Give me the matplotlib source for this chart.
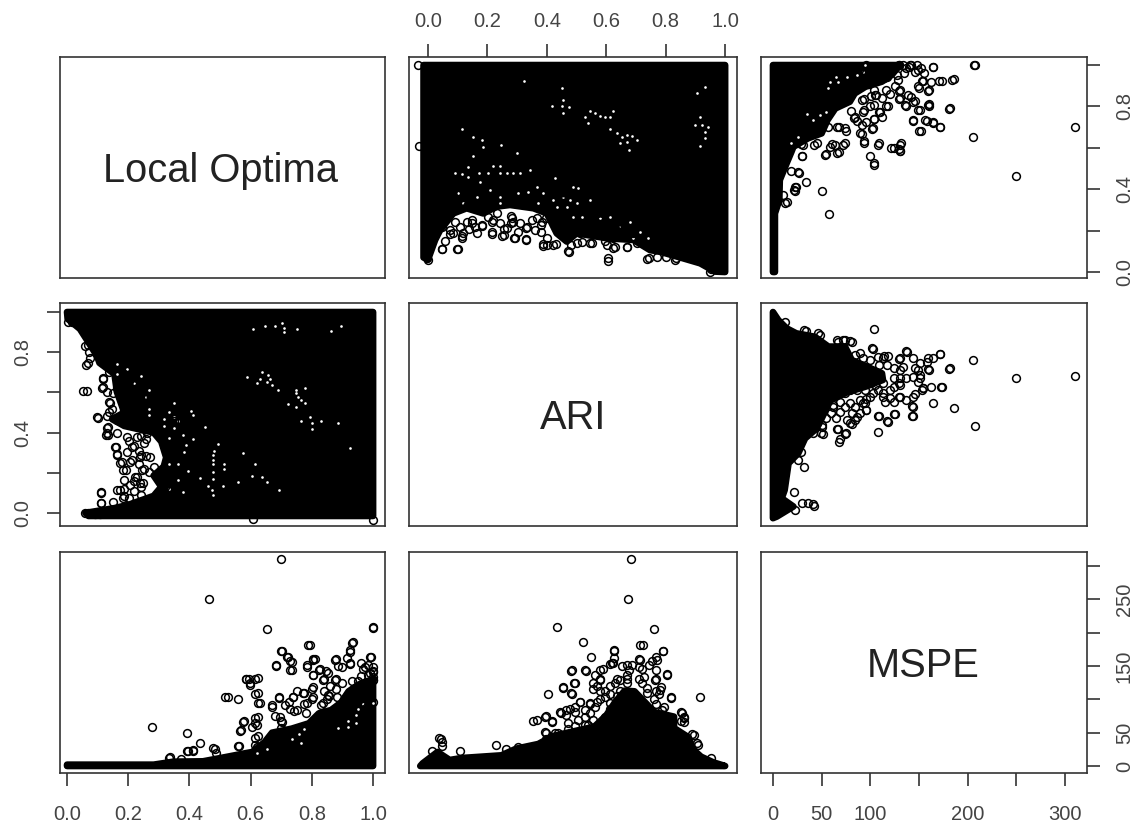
import matplotlib
matplotlib.use('Agg')
import matplotlib.pyplot as plt

plt.rcParams['font.family'] = ['Liberation Sans', 'DejaVu Sans']

# Outlying points, Local Optima against MSPE
lm_mspe = [208, 310, 250, 206, 182, 186, 174, 164, 172, 164, 158, 150, 144, 160, 160, 151, 137, 144, 142, 130.5,
           130.5, 130.5, 130.5, 118.5, 116, 160, 150, 162, 153, 152, 146, 142, 130.5, 124, 108, 104, 104, 100, 94, 102, 104,
           75, 68, 72, 68, 64, 58.5, 54, 42, 30, 34, 22, 50, 58, 12, 27, 19, 31, 57, 89, 96,
           83, 110, 127, 117, 108, 100, 93, 23, 10.6, 96, 96, 134, 129, 148, 137, 125, 120, 135, 140, 112,
           101, 92, 128, 122, 155, 86, 80, 99, 105, 112,
           94, 91.5, 103, 91.5, 104, 84, 109, 116, 104, 106, 104, 114, 106, 94, 94, 74, 66, 66, 74, 61,
           53, 45, 30, 29, 26, 23, 14, 24, 104, 141, 164, 149, 159, 149, 154, 184, 171, 149, 159, 136,
           129, 129, 139, 146, 144, 152, 172, 164, 156, 181, 130, 132, 121, 109, 207, 129]
lm_lo = [1.0, .70, .465, .652, .794, .934, .924, .992, .70, .718, .729, .683, .729, .81, .804, .783, .804, .823, .847, .879,
         .839, .614, .585, .804, .879, .879, .887, .916, .924, .984, .968, 1.0, .585, .599, .615, .515, .525, .56, .625, .691, .738,
         .681, .70, .615, .578, .615, .605, .568, .615, .56, .435, .396, .391, .279, .332, .477, .488, .614, .70, .67, .726,
         .742, .775, .952, .944, .928, .80, .775, .41, .372, .96, 1.0, 1.0, 1.0, 1.0, .984, .90, .86, .96, .99, .75,
         .85, .83, .93, .98, .96, .73, .78, .91, .855, .839,
         .631, .669, .694, .712, .74, .751, .772, .80, .805, .854, .881, .936, .963, .838, .783, .696, .702, .576, .625, .62,
         .565, .625, .561, .62, .484, .391, .337, .413, .936, 1.0, .99, .974, .876, .898, .925, .93, .923, .783, .805, .805,
         .838, .876, .854, .826, .734, .682, .702, .723, .734, .789, .593, .625, .598, .625, 1.0, 1.0]
# Outline of the solid black mass, Local Optima against MSPE
lm_hull_mspe = [0, 2, 2, 6.5, 7, 14, 19, 21, 36, 50, 56, 64, 79, 84, 95, 112, 122, 130.5, 0]
lm_hull_lo = [0, 0, .283, .348, .444, .525, .581, .605, .646, .67, .734, .79, .823, .863, .895, .92, .952, 1.0, 1.0]
lm_gap_mspe = [58.6, 65, 67, 57, 35, 41, 48, 55, 19, 26, 76, 86, 93, 94.5]
lm_gap_lo = [.919, .944, .919, .887, .763, .734, .758, .775, .622, .654, .944, .952, .968, 1.0]

# Outlying points, ARI against MSPE
am_mspe = [104, 310, 250, 206, 208, 186, 182, 174, 162, 164, 172, 164, 158, 160, 154, 153, 144, 144, 138, 130.5,
           130.5, 130.5, 130.5, 118.5, 124, 108, 108, 124, 118, 108, 144, 146, 151, 149.5, 144, 130.5, 124, 115, 102, 89,
           81, 72, 67, 46.5, 32, 12, 96, 84, 79, 75, 67, 68, 49, 32, 22, 42.5, 36, 29.5, 22.5, 26,
           103, 113, 93, 69, 62, 101, 113, 117, 109, 125, 143, 143, 173, 181, 172, 137, 129, 151, 69, 66,
           74, 154, 146, 159, 159, 48, 34, 74, 103, 114, 129, 129, 96, 96, 81, 86, 50, 51, 29, 79,
           66, 109, 41,
           53, 59, 64, 69, 74, 62, 53, 48, 55, 60, 69, 74, 79, 84, 89, 95, 100, 95, 108, 113,
           120, 65, 50, 76, 89, 81, 79, 86, 105, 93, 100, 84, 113, 117, 124, 124, 120, 134, 137, 144,
           149, 151, 137, 45, 41]
am_ari = [.915, .683, .673, .761, .433, .521, .723, .627, .627, .549, .791, .769, .753, .711, .62, .612, .483, .529, .803, .769,
          .711, .67, .637, .783, .72, .778, .483, .493, .453, .405, .769, .72, .687, .653, .579, .579, .554, .554, .819, .794,
          .852, .86, .852, .894, .91, .952, .512, .463, .446, .396, .416, .355, .396, .23, .106, .036, .048, .048, .015, .264,
          .595, .595, .546, .595, .537, .645, .645, .456, .481, .494, .481, .532, .626, .714, .79, .804, .764, .671, .366, .416,
          .394, .624, .59, .714, .77, .888, .905, .86, .817, .78, .646, .579, .512, .568, .444, .478, .428, .394, .304, .854,
          .86, .736, .043,
          .612, .579, .612, .554, .595, .529, .546, .496, .471, .496, .504, .529, .546, .529, .562, .546, .579, .612, .612, .579,
          .57, .471, .438, .463, .496, .496, .612, .612, .637, .769, .761, .786, .769, .736, .67, .629, .612, .728, .67, .678,
          .711, .745, .562, .446, .396]
# Outline of the solid black mass, ARI against MSPE
am_hull_mspe = [0, 5.5, 14, 24, 43, 57, 74, 81, 93, 112, 113, 96, 76, 59, 50, 45, 33, 26, 16, 12, 9, 21, 4, 0]
am_hull_ari = [1.0, .96, .919, .894, .877, .828, .828, .761, .736, .695, .662, .63, .60, .56, .47, .421, .371, .297, .247, .114, .073, .032, -.018, -.026]

# Outlying points, Local Optima against ARI
la_lo = [.111, .111, .053, .061, .098, .127, .13, .184, .174, .163, .159, .222, .238, .13, .147, .138, .13, .167, .114, .119,
         .138, .074, .071, .058, .058, .002, .219, .187, .163, .251, .259, .259, .163, .235, .187, .251, .203, .38, 1.0,
         .066, .102, .135, .135, .07, .07, .015, .119, .119, .151, .141, .173, .2, .222, .157, .162, .179, .193, .206, .228,
         .244, .249, .173, .11, .111, .07, .092, .108, .151, .184, .206, .211, .228, .26, .239, .271, .32, .249, .266, .162,
         .195, .239, .609,
         .203, .243, .219, .243, .219, .187, .187, .267, .283, .235, .211, .243, .235, .195, .219, .203, .243, .251, .283, .348,
         .251, .219, .227, .203, .219, .203, .219, .203, .187, .163, .187, .138, .13]
la_ari = [.048, .102, .605, .738, .476, .388, .422, .214, .25, .293, .33, .181, .147, .481, .517, .551, .602, .613, .624, .669,
          .703, .77, .8, .832, .001, .95, .046, .085, .113, .22, .282, .366, .4, .433, .512, .579, .624, .108, -.033,
          .607, .471, .43, .388, .836, .745, .952, .67, .629, .595, .546, .604, .637, .653, .33, .289, .255, .214, .255, .181,
          .214, .148, .114, .098, .048, -.002, -.005, -.005, .056, .073, .139, .33, .38, .396, .28, .28, .131, .579, .612, .463,
          .38, .446, -.032,
          .074, .091, .108, .13, .158, .119, .164, .203, .231, .242, .265, .287, .31, .304, .332, .36, .383, .349, .411, .456,
          .444, .478, .501, .534, .568, .59, .635, .658, .691, .624, .579, .501, .4]
# Outline of the solid black mass, Local Optima against ARI
la_hull_lo = [1.0, .07, .06, .155, .2, .283, .308, .283, .316, .324, .308, .283, .187, .147, .187, .163, .155, .106, .098, .066, .042, .002, 0, 1.0]
la_hull_ari = [-.015, -.015, 0, .024, .04, .085, .13, .186, .231, .276, .355, .4, .433, .467, .5, .602, .691, .747, .781, .859, .916, .966, 1.0, 1.0]
# Small white gaps left inside the mass
la_gap_ari = [.45, .456, .416, .45, .476, .456, .545, .562, .579, .596, .624, .529, .54, .613, .613, .637, .652, .669, .686, .646,
              .669, .703, .678, .905, .933, .916, .899, .921, .944, .933, .933, .916, .324, .116, .153, .181, .186, .246, .299, .153,
              .091, .113, .136, .136, .17, .175, .203, .22, .242, .242, .265, .287, .31, .343, .428, .102, .164, .209, .242, .304,
              .338, .366, .388, .422, .456, .489, .506, .478, .545, .501, .119, .242, .371, .433, .467, .489, .517, .579, .613, .646,
              .68, .714, .742, .691]
la_gap_lo = [.887, .831, .802, .802, .795, .766, .779, .766, .754, .747, .779, .747, .721, .747, .689, .67, .654, .662, .657, .622,
             .63, .638, .589, .863, .895, .75, .71, .71, .702, .678, .646, .609, .924, .691, .654, .638, .605, .614, .576, .56,
             .477, .473, .509, .461, .477, .436, .477, .514, .514, .477, .477, .477, .48, .493, .452, .38, .364, .396, .364, .383,
             .388, .412, .38, .348, .364, .412, .404, .348, .348, .332, .332, .332, .332, .316, .316, .267, .267, .259, .267, .219,
             .243, .195, .163, .163]

# Axis limits and ticks
lo_xlim = (-.023, 1.039)
ari_xlim = (-.064, 1.04)
mspe_xlim = (-12.3, 322.7)
lo_ylim = (-.029, 1.039)
ari_ylim = (-.065, 1.045)
mspe_ylim = (-10.5, 321)
unit_ticks = [0, .2, .4, .6, .8, 1.0]
mspe_ticks = [0, 50, 100, 150, 200, 250, 300]

W, H = 1144, 831
col_px = [(60, 385), (409, 737), (761, 1087)]
row_px = [(57, 278), (303, 526), (552, 773)]
ink = '#333333'
label_col = '#444444'

fig = plt.figure(figsize=(W / 100, H / 100), dpi=100)


def make_panel(r, c):
    x0, x1 = col_px[c]
    y0, y1 = row_px[r]
    ax = fig.add_axes([x0 / W, 1 - y1 / H, (x1 - x0) / W, (y1 - y0) / H])
    for s in ax.spines.values():
        s.set_linewidth(1.2)
        s.set_color(ink)
    ax.set_xticks([])
    ax.set_yticks([])
    return ax


def draw(ax, hull_x, hull_y, pts_x, pts_y, gap_x=None, gap_y=None):
    ax.fill(hull_x, hull_y, fc='black', ec='black', lw=4.8, joinstyle='round', zorder=2)
    if gap_x is not None:
        ax.plot(gap_x, gap_y, 'o', color='white', ms=1.9, mew=0, zorder=3)
    ax.plot(pts_x, pts_y, 'o', mfc='none', mec='black', ms=5.6, mew=1.1, zorder=4)


def x_axis(ax, ticks, labels, top=False):
    ax.set_xticks(ticks, labels)
    ax.tick_params(axis='x', length=9.4, width=1.2, color=ink, labelcolor=label_col, labelsize=14.5,
                   pad=9 if top else 13.5, top=top, bottom=not top, labeltop=top, labelbottom=not top)


def y_axis(ax, ticks, labels, right=False):
    ax.set_yticks(ticks, labels)
    ax.tick_params(axis='y', length=9.4, width=1.2, color=ink, labelcolor=label_col, labelsize=14.5, pad=10.6,
                   right=right, left=not right, labelright=right, labelleft=not right)
    for t in ax.get_yticklabels():
        t.set_rotation(90)
        t.set_verticalalignment('center')


xlims = [lo_xlim, ari_xlim, mspe_xlim]
ylims = [lo_ylim, ari_ylim, mspe_ylim]
axes = [[make_panel(r, c) for c in range(3)] for r in range(3)]

draw(axes[0][1], la_hull_ari, la_hull_lo, la_ari, la_lo, la_gap_ari, la_gap_lo)
draw(axes[1][0], la_hull_lo, la_hull_ari, la_lo, la_ari, la_gap_lo, la_gap_ari)
draw(axes[0][2], lm_hull_mspe, lm_hull_lo, lm_mspe, lm_lo, lm_gap_mspe, lm_gap_lo)
draw(axes[2][0], lm_hull_lo, lm_hull_mspe, lm_lo, lm_mspe, lm_gap_lo, lm_gap_mspe)
draw(axes[1][2], am_hull_mspe, am_hull_ari, am_mspe, am_ari)
draw(axes[2][1], am_hull_ari, am_hull_mspe, am_ari, am_mspe)

for r in range(3):
    for c in range(3):
        axes[r][c].set_xlim(xlims[c])
        axes[r][c].set_ylim(ylims[r])

names = ['Local Optima', 'ARI', 'MSPE']
name_x = [.4925, .5, .4975]
for i in range(3):
    axes[i][i].text(name_x[i], .4855, names[i], transform=axes[i][i].transAxes, ha='center', va='center',
                    fontsize=28.7, color='#222222')

unit_labels = ['0.0', '0.2', '0.4', '0.6', '0.8', '1.0']
x_axis(axes[2][0], unit_ticks, unit_labels)
x_axis(axes[0][1], unit_ticks, unit_labels, top=True)
x_axis(axes[2][2], mspe_ticks, ['0', '50', '100', '', '200', '', '300'])
y_axis(axes[1][0], unit_ticks, ['0.0', '', '0.4', '', '0.8', ''])
y_axis(axes[0][2], unit_ticks, ['0.0', '', '0.4', '', '0.8', ''], right=True)
y_axis(axes[2][2], mspe_ticks, ['0', '50', '', '150', '', '250', ''], right=True)

fig.savefig('out.png', dpi=100)
